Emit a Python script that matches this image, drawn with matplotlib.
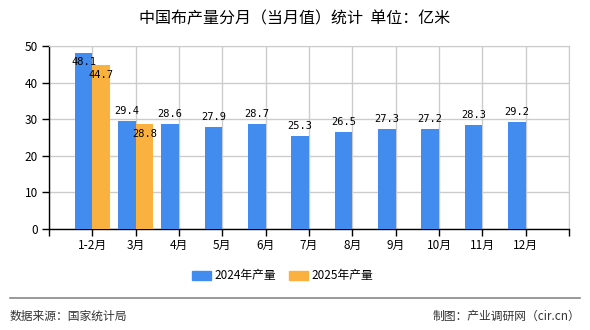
import matplotlib
matplotlib.use("Agg")
import matplotlib.pyplot as plt
from matplotlib.patches import Patch
from matplotlib.lines import Line2D
import numpy as np

plt.rcParams["font.family"] = ["Noto Sans CJK SC", "DejaVu Sans"]

# data
months = ["1-2月", "3月", "4月", "5月", "6月", "7月", "8月", "9月", "10月", "11月", "12月"]
prod_2024 = [48.1, 29.4, 28.6, 27.9, 28.7, 25.3, 26.5, 27.3, 27.2, 28.3, 29.2]
prod_2025 = [44.7, 28.8]
series_names = ["2024年产量", "2025年产量"]

BLUE = "#428BEF"
ORANGE = "#FBB13F"
GRID = "#CCCCCC"

fig = plt.figure(figsize=(5.9, 3.3), dpi=100)
ax = fig.add_axes([49 / 590, 1 - 229 / 330, 520 / 590, 183 / 330])

pos = np.arange(1, len(months) + 1)
w = 0.41

# -------------------------
# BARS
# -------------------------
ax.bar(pos[:len(prod_2024)], prod_2024, width=-w, align="edge", color=BLUE, zorder=3)
ax.bar(pos[:len(prod_2025)], prod_2025, width=w, align="edge", color=ORANGE, zorder=3)

ymax = 50
for x, v in zip(pos, prod_2024):
    if v > ymax - 4:
        off, va = -4, "top"
    else:
        off, va = 5, "bottom"
    ax.annotate(f"{v}", (x - w / 2, v), xytext=(0, off), textcoords="offset pixels",
                ha="center", va=va, fontsize=7.5, family="DejaVu Sans Mono", zorder=5)

for x, v in zip(pos, prod_2025):
    ax.annotate(f"{v}", (x + w / 2, v), xytext=(0, -5), textcoords="offset pixels",
                ha="center", va="top", fontsize=7.5, family="DejaVu Sans Mono", zorder=5)

# -------------------------
# AXES
# -------------------------
ax.set_xlim(0, len(months) + 1)
ax.set_ylim(0, ymax)
ax.set_xticks(np.arange(0, len(months) + 2))
ax.set_xticklabels([""] + months + [""], fontsize=8.5)
ax.set_yticks(np.arange(0, 51, 10))
ax.tick_params(axis="y", labelsize=8.5, length=5, width=1, pad=3)
ax.tick_params(axis="x", length=5, width=1, pad=2)
ax.grid(True, color=GRID, linewidth=1, zorder=0)
ax.set_axisbelow(True)
for s in ("top", "right"):
    ax.spines[s].set_color(GRID)
for s in ("left", "bottom"):
    ax.spines[s].set_color("black")
    ax.spines[s].set_linewidth(1)

# -------------------------
# TITLE / LEGEND / FOOTER
# -------------------------
fig.text(0.5, 1 - 19 / 330, "中国布产量分月（当月值）统计  单位：亿米",
         ha="center", va="center", fontsize=11.5)

handles = [Patch(color=BLUE), Patch(color=ORANGE)]
fig.legend(handles, series_names, loc="center", bbox_to_anchor=(283 / 590, 1 - 276 / 330),
           ncol=2, frameon=False, fontsize=8.5, handlelength=1.6, handleheight=0.7,
           handletextpad=0.3, columnspacing=1.1)

fig.add_artist(Line2D([10 / 590, 580 / 590], [1 - 298 / 330] * 2, color="#888888", linewidth=1.2))
fig.text(10 / 590, 1 - 316 / 330, "数据来源：国家统计局", ha="left", va="center",
         fontsize=8.5, color="#333333")
fig.text(580 / 590, 1 - 316 / 330, "制图：产业调研网（cir.cn）", ha="right", va="center",
         fontsize=8.5, color="#333333")

fig.savefig("out.png", dpi=100)
